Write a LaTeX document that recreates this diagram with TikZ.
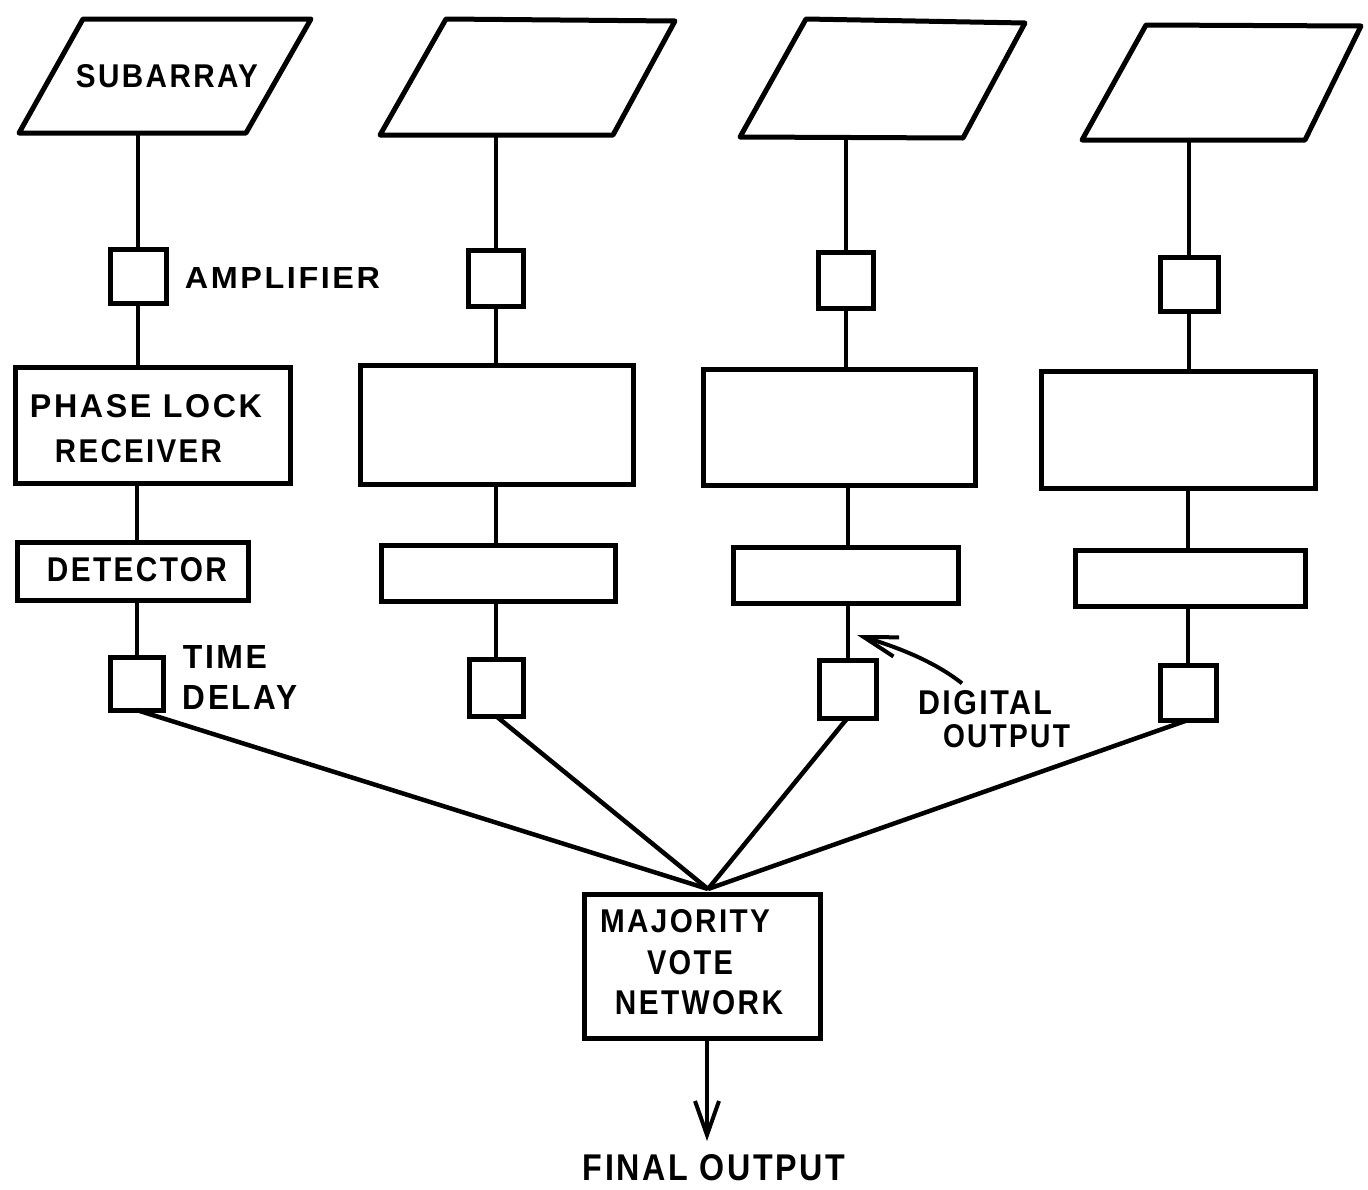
\documentclass[tikz,border=0pt]{standalone}
\usepackage{fontspec}
\usepackage{graphicx}
\newfontfamily\labfont{Liberation Sans}[LetterSpace=8]
\usetikzlibrary{arrows.meta,fit,calc}
\newcommand{\dtxt}[3]{\resizebox{#1pt}{#2pt}{\labfont\bfseries #3}}
\begin{document}
\begin{tikzpicture}[x=1pt,y=-1pt,
  box/.style={draw, line width=5pt, inner sep=0pt, outer sep=0pt},
  para/.style={draw, line width=5pt, line join=round},
  conn/.style={line width=4pt},
  feed/.style={line width=4.5pt},
  txt/.style={inner sep=0pt, outer sep=0pt}]
\fill[white] (0,0) rectangle (1368,1189);
\useasboundingbox (0,0) rectangle (1368,1189);

% subarrays (parallelograms)
\draw[para] (83,19) -- (311,19) -- (246,133) -- (19,133) -- cycle;
\draw[para] (446,19) -- (675,21) -- (613,135) -- (380,135) -- cycle;
\draw[para] (806,19) -- (1025,23) -- (963,138) -- (740,137) -- cycle;
\draw[para] (1146,25) -- (1361,26) -- (1305,140) -- (1082,140) -- cycle;
\coordinate (p1) at (138,133);
\coordinate (p2) at (495,135);
\coordinate (p3) at (845,137);
\coordinate (p4) at (1189,140);
\node[txt] (sub) at (167,76.5) {\dtxt{182}{23}{SUBARRAY}};

% amplifiers
\node[box, fit={(110,249) (166,303)}] (a1) {};
\node[box, fit={(468,250) (523,306)}] (a2) {};
\node[box, fit={(818,252) (873,308)}] (a3) {};
\node[box, fit={(1160,257) (1218,311)}] (a4) {};
\node[txt] (amp) at (282.5,277.5) {\dtxt{195}{21}{AMPLIFIER}};

% phase lock receivers
\node[box, fit={(15,367) (290,483)}] (r1) {};
\node[box, fit={(360,365) (633,484)}] (r2) {};
\node[box, fit={(703,369) (975,485)}] (r3) {};
\node[box, fit={(1041,371) (1315,488)}] (r4) {};
\node[txt] (pl) at (146,406.5) {\dtxt{232}{23}{PHASE LOCK}};
\node[txt] (rc) at (138.5,451.5) {\dtxt{167}{23}{RECEIVER}};

% detectors
\node[box, fit={(17,542) (248,600)}] (d1) {};
\node[box, fit={(381,545) (615,601)}] (d2) {};
\node[box, fit={(733,547) (958,603)}] (d3) {};
\node[box, fit={(1075,550) (1305,606)}] (d4) {};
\node[txt] (det) at (137,569.5) {\dtxt{180}{24}{DETECTOR}};

% time delays
\node[box, fit={(110,657) (163,710)}] (t1) {};
\node[box, fit={(469,659) (523,716)}] (t2) {};
\node[box, fit={(819,660) (876,718)}] (t3) {};
\node[box, fit={(1160,665) (1216,720)}] (t4) {};
\node[txt] (tm) at (225,656.5) {\dtxt{84}{23}{TIME}};
\node[txt] (dl) at (240,697.5) {\dtxt{114}{24}{DELAY}};

% majority vote network
\node[box, fit={(584,894) (820,1038)}] (mv) {};
\node[txt] (mj) at (685,921.5) {\dtxt{170}{23}{MAJORITY}};
\node[txt] (vt) at (690,962.5) {\dtxt{86}{24}{VOTE}};
\node[txt] (nw) at (699,1002.5) {\dtxt{168}{24}{NETWORK}};
\coordinate (vp) at (708,889);

% digital output label
\node[txt] (dig) at (985,702.5) {\dtxt{134}{24}{DIGITAL}};
\node[txt] (dout) at (1006.5,736.5) {\dtxt{127}{23}{OUTPUT}};
\coordinate (dtip) at (857,635);

% final output
\coordinate (ftip) at (707,1141);
\node[txt] (fo) at (714,1168) {\dtxt{262}{26}{FINAL OUTPUT}};

% vertical connectors
\foreach \i in {1,2,3,4}{
  \draw[conn] (a\i.north |- p\i) -- (a\i.north);
  \draw[conn] (a\i.south) -- (a\i.south |- r\i.north);
  \draw[conn] (t\i.north |- r\i.south) -- (t\i.north |- d\i.north);
  \draw[conn] (t\i.north |- d\i.south) -- (t\i.north);
  \draw[feed] (t\i.south) -- (vp);
}

% output arrow
\draw[conn, -{Straight Barb[length=34pt,width=24pt]}] (ftip |- mv.south) -- (ftip);

% digital output pointer
\draw[conn, -{Straight Barb[length=34pt,width=20pt]}]
  ($(dig.north west)+(44,-7)$) .. controls (935,662) and (900,648) .. (dtip);
\end{tikzpicture}
\end{document}
